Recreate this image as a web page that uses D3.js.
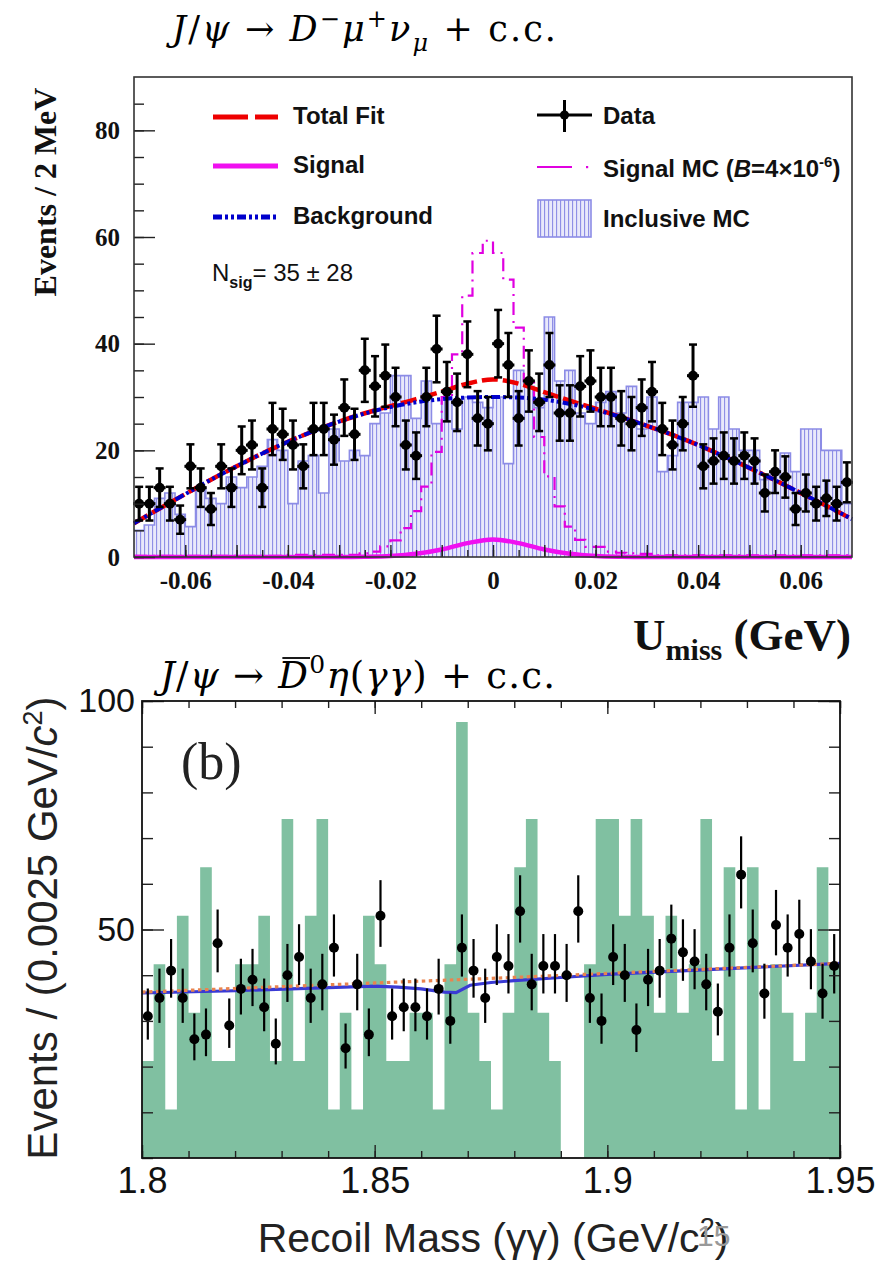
<!DOCTYPE html>
<html>
<head>
<meta charset="utf-8">
<script src="https://cdn.jsdelivr.net/npm/d3@7"></script>
<style>
  body { margin: 0; background: #fff; }
  svg { display: block; }
</style>
</head>
<body>
<svg id="chart" width="879" height="1262"></svg>
<script>
// ---------------- Upper panel: J/psi -> D- mu+ nu, U_miss distribution ----------------
const umissRange = [-0.07, 0.07];
const umissBins = 70;                 // 2 MeV bins
const dataCounts = [
  10,10,13,10,7,17,13,9,17,13,
  20,21,13,24,23,21,17,24,24,22,
  28,23,35,32,34,30,21,19,30,39,
  31,29,38,26,25,40,36,26,33,29,
  36,27,27,32,33,30,30,26,25,28,
  31,24,21,25,34,17,18,19,18,19,
  18,12,16,15,9,12,10,11,10,14
];
const inclusiveMC = [
  5,6,11,12,8,5.7,13,11,10,15,
  13,15,17,22,20,10,18,19,12,24,
  18,20,19,25,27,34,34,26,33,25,
  30,24,30,29,28,30,17.5,35,32,28,
  45,33,35,27,25,29,31,27,32,24,
  30,16,19,29,29,30,24,30,24,20,
  20,14.5,15.5,19.5,16,24,24,20,20,10
];
const signalMC = [
  0.2,0.2,0.2,0.2,0.2,0.2,0.2,0.2,0.2,0.2,
  0.2,0.2,0.2,0.2,0.2,0.4,0.4,0.4,0.4,0.4,
  0.4,0.4,0.7,1.0,2.0,3.1,5.4,8.6,13.2,19.7,
  30,38,49,57,59.3,57,52,43,33,22.5,
  15.1,9.5,5.7,3.2,1.9,1.9,1.0,0.8,0.7,0.6,
  0.6,0.3,0.3,0.3,0.3,0.3,0.3,0.3,0.3,0.3,
  0.3,0.3,0.3,0.3,0.3,0.3,0.3,0.3,0.3,0.3
];
const fitGridX = [-0.07,-0.065,-0.06,-0.055,-0.05,-0.045,-0.04,-0.035,-0.03,-0.025,-0.02,-0.015,-0.01,-0.005,
                  0,0.005,0.01,0.015,0.02,0.025,0.03,0.035,0.04,0.045,0.05,0.055,0.06,0.065,0.07];
const backgroundFit = [6.3,9.1,11.8,14.5,17.0,19.4,21.6,23.6,25.4,26.9,28.1,29.0,29.6,29.9,
                       30.0,29.9,29.5,28.7,27.6,26.2,24.6,22.9,21.0,18.9,16.7,14.4,12.0,9.6,7.1];
const signalFit = [0,0,0,0,0,0,0,0,0,0.05,0.2,0.6,1.4,2.6,
                   3.3,2.6,1.4,0.6,0.2,0.05,0,0,0,0,0,0,0,0,0];
const topXLabels = [-0.06,-0.04,-0.02,0,0.02,0.04,0.06];
const topYLabels = [0,20,40,60,80];

// ---------------- Lower panel: J/psi -> D0bar eta(gamma gamma), recoil mass ----------------
const recoilRange = [1.80, 1.95];
const recoilBins = 60;                // 0.0025 GeV/c^2 bins
const recoilCounts = [
  31,35,41,35,26,27,47,29,37,39,33,25,40,44,35,38,46,24,38,27,
  53,31,33,33,31,37,30,46,41,35,44,42,54,38,42,42,40,54,35,30,
  44,40,28,39,41,48,45,43,38,32,46,62,47,36,51,46,49,43,36,42
];
const recoilMC = [
  21.2,42.4,10.6,53.0,31.8,63.6,21.2,21.2,42.4,42.4,53.0,21.2,74.2,21.2,53.0,74.2,10.6,31.8,10.6,53.0,
  42.4,21.2,21.2,31.8,31.8,10.6,42.4,95.4,31.8,21.2,10.6,31.8,63.6,74.2,31.8,21.2,0,0,42.4,74.2,
  74.2,53.0,74.2,53.0,31.8,53.0,31.8,42.4,74.2,21.2,63.6,10.6,63.6,10.6,42.4,31.8,21.2,31.8,63.6,42.4
];
const recoilBkgX = [1.80,1.825,1.85,1.875,1.90,1.925,1.95];
const recoilBkgY = [36.3,37.3,38.3,39.3,40.4,41.5,42.6];
const recoilTotX = [1.80,1.82,1.84,1.85,1.855,1.86,1.865,1.8675,1.8705,1.875,1.88,1.89,1.90,1.925,1.95];
const recoilTotY = [36.1,36.6,37.3,37.6,37.4,37.0,36.3,36.2,37.8,38.4,38.8,39.5,40.2,41.4,42.6];
const bottomXLabels = [1.8,1.85,1.9,1.95];
const bottomYLabels = [50,100];

// ---------------------------------------------------------------------------------------
const svg = d3.select("#chart");
const defs = svg.append("defs");

// hatch used for the inclusive MC histogram
const pat = defs.append("pattern").attr("id", "inclHatch")
  .attr("patternUnits", "userSpaceOnUse").attr("width", 4).attr("height", 4);
pat.append("rect").attr("width", 4).attr("height", 4).attr("fill", "#ffffff");
pat.append("rect").attr("x", 0).attr("width", 1.3).attr("height", 4).attr("fill", "#8f8fe6");
pat.append("rect").attr("x", 2.5).attr("y", 0.5).attr("width", 1).attr("height", 1).attr("fill", "#a9a9ef");
pat.append("rect").attr("x", 2.5).attr("y", 2.5).attr("width", 1).attr("height", 1).attr("fill", "#a9a9ef");

// text with sub/superscript pieces
function richText(parent, x, y, parts, attrs) {
  const t = parent.append("text").attr("x", x).attr("y", y);
  Object.entries(attrs || {}).forEach(([k, v]) => t.attr(k, v));
  let shift = 0;
  parts.forEach(p => {
    const s = t.append("tspan").text(p.t);
    const target = p.sup ? -p.sup : (p.sub ? p.sub : 0);
    s.attr("dy", target - shift);
    shift = target;
    if (p.size) s.attr("font-size", p.size);
    if (p.italic) s.attr("font-style", "italic");
    if (p.weight) s.attr("font-weight", p.weight);
  });
  return t;
}

function binEdges(range, n) {
  const w = (range[1] - range[0]) / n;
  return d3.range(n + 1).map(i => range[0] + i * w);
}
function stepPoints(edges, vals) {
  const pts = vals.map((v, i) => [edges[i], v]);
  pts.push([edges[edges.length - 1], vals[vals.length - 1]]);
  return pts;
}

// ====================== upper panel ======================
const xT = d3.scaleLinear().domain(umissRange).range([134, 852]);
const yT = d3.scaleLinear().domain([0, 90]).range([557, 77]);
const upper = svg.append("g");
const tEdges = binEdges(umissRange, umissBins);

// inclusive MC (hatched)
const inclPts = stepPoints(tEdges, inclusiveMC);
upper.append("path")
  .attr("d", d3.area().curve(d3.curveStepAfter).x(d => xT(d[0])).y0(yT(0)).y1(d => yT(d[1]))(inclPts))
  .attr("fill", "url(#inclHatch)");
upper.append("path")
  .attr("d", d3.line().curve(d3.curveStepAfter).x(d => xT(d[0])).y(d => yT(d[1]))(inclPts))
  .attr("fill", "none").attr("stroke", "#8c8ce6").attr("stroke-width", 1.6);

// signal MC (dash-dot step histogram)
upper.append("path")
  .attr("d", d3.line().curve(d3.curveStepAfter).x(d => xT(d[0])).y(d => yT(d[1]))(stepPoints(tEdges, signalMC)))
  .attr("fill", "none").attr("stroke", "#e000e0").attr("stroke-width", 2.2)
  .attr("stroke-dasharray", "13,6,2,6");

// fit curves
const fitLine = d3.line().curve(d3.curveMonotoneX).x(d => xT(d[0])).y(d => yT(d[1]));
const totalFit = fitGridX.map((x, i) => [x, backgroundFit[i] + signalFit[i]]);
upper.append("path").attr("d", fitLine(fitGridX.map((x, i) => [x, signalFit[i]])))
  .attr("fill", "none").attr("stroke", "#f010f0").attr("stroke-width", 4.5);
upper.append("path").attr("d", fitLine(totalFit))
  .attr("fill", "none").attr("stroke", "#ee0000").attr("stroke-width", 4.5)
  .attr("stroke-dasharray", "16,5");
upper.append("path").attr("d", fitLine(fitGridX.map((x, i) => [x, backgroundFit[i]])))
  .attr("fill", "none").attr("stroke", "#0000cc").attr("stroke-width", 4)
  .attr("stroke-dasharray", "9,3,3,3,3,3");

// data points
const tw = (umissRange[1] - umissRange[0]) / umissBins;
const tData = upper.append("g").attr("stroke", "#000");
dataCounts.forEach((v, i) => {
  const cx = xT(umissRange[0] + (i + 0.5) * tw), cy = yT(v);
  const e = Math.sqrt(v);
  const y1 = yT(v + e), y2 = yT(v - e);
  tData.append("line").attr("x1", cx).attr("x2", cx).attr("y1", y1).attr("y2", y2).attr("stroke-width", 3);
  tData.append("line").attr("x1", cx - 4).attr("x2", cx + 4).attr("y1", y1).attr("y2", y1).attr("stroke-width", 2.5);
  tData.append("line").attr("x1", cx - 4).attr("x2", cx + 4).attr("y1", y2).attr("y2", y2).attr("stroke-width", 2.5);
  tData.append("line").attr("x1", cx - 6).attr("x2", cx + 6).attr("y1", cy).attr("y2", cy).attr("stroke-width", 3);
  tData.append("circle").attr("cx", cx).attr("cy", cy).attr("r", 5).attr("fill", "#000").attr("stroke", "none");
});

// axes (ticks point inwards)
const serifFamily = "Liberation Serif, Times New Roman, serif";
function styleAxis(g, font, size) {
  g.select(".domain").remove();
  g.selectAll(".tick line").attr("stroke", "#222").attr("stroke-width", 1.4);
  g.selectAll("text").attr("fill", "#111").attr("font-size", size)
    .attr("font-family", font.family).attr("font-weight", font.weight || "normal");
}
const tFont = { family: serifFamily, weight: "bold" };
upper.append("g").attr("transform", `translate(0,${yT(0)})`)
  .call(d3.axisBottom(xT).tickValues(d3.range(-13, 14).map(i => i * 0.005)).tickSizeInner(-7).tickSizeOuter(0).tickFormat(""))
  .call(g => styleAxis(g, tFont, 25));
upper.append("g").attr("transform", `translate(0,${yT(0)})`)
  .call(d3.axisBottom(xT).tickValues(d3.range(-6, 7).map(i => i / 100)).tickSizeInner(-12).tickSizeOuter(0).tickPadding(14)
    .tickFormat(d => topXLabels.some(l => Math.abs(l - d) < 1e-9) ? (Math.abs(d) < 1e-9 ? "0" : d.toFixed(2)) : ""))
  .call(g => styleAxis(g, tFont, 25));
upper.append("g").attr("transform", `translate(${xT(umissRange[0])},0)`)
  .call(d3.axisLeft(yT).tickValues(d3.range(0, 90, 5)).tickSizeInner(-10).tickSizeOuter(0).tickFormat(""))
  .call(g => styleAxis(g, tFont, 25));
upper.append("g").attr("transform", `translate(${xT(umissRange[0])},0)`)
  .call(d3.axisLeft(yT).tickValues(topYLabels).tickSizeInner(-21).tickSizeOuter(0).tickPadding(14).tickFormat(d3.format("d")))
  .call(g => styleAxis(g, tFont, 25));

upper.append("rect").attr("x", 134).attr("y", 77).attr("width", 852 - 134).attr("height", 557 - 77)
  .attr("fill", "none").attr("stroke", "#333").attr("stroke-width", 1.6);

// axis titles
svg.append("g").attr("transform", "translate(56,192) rotate(-90)")
  .append("text").attr("text-anchor", "middle").attr("font-size", 32)
  .attr("font-family", serifFamily).attr("font-weight", "bold").attr("fill", "#111")
  .text("Events / 2 MeV");
richText(svg, 851, 650, [
  { t: "U" }, { t: "miss", sub: 10, size: 30 }, { t: " (GeV)" }
], { "text-anchor": "end", "font-size": 45, "font-family": serifFamily, "font-weight": "bold", fill: "#111" });

// legend
const sans = "Liberation Sans, Arial, Helvetica, sans-serif";
const leg = svg.append("g");
leg.append("line").attr("x1", 213).attr("x2", 278).attr("y1", 117).attr("y2", 117)
  .attr("stroke", "#ee0000").attr("stroke-width", 5).attr("stroke-dasharray", "35,7");
leg.append("line").attr("x1", 213).attr("x2", 278).attr("y1", 166).attr("y2", 166)
  .attr("stroke", "#f010f0").attr("stroke-width", 5);
leg.append("line").attr("x1", 213).attr("x2", 276).attr("y1", 217).attr("y2", 217)
  .attr("stroke", "#0000cc").attr("stroke-width", 5).attr("stroke-dasharray", "9,3,3,3,3,3");
const legText = { "font-family": sans, "font-weight": "bold", "font-size": 24, fill: "#111" };
richText(leg, 293, 124, [{ t: "Total Fit" }], legText);
richText(leg, 293, 173, [{ t: "Signal" }], legText);
richText(leg, 293, 224, [{ t: "Background" }], legText);
richText(leg, 212, 281, [{ t: "N" }, { t: "sig", sub: 7, size: 16, weight: "bold" }, { t: "= 35 \u00b1 28" }],
  { "font-family": sans, "font-size": 24, fill: "#111" });

leg.append("line").attr("x1", 537).attr("x2", 592).attr("y1", 115).attr("y2", 115).attr("stroke", "#000").attr("stroke-width", 3);
leg.append("line").attr("x1", 564.5).attr("x2", 564.5).attr("y1", 100).attr("y2", 132).attr("stroke", "#000").attr("stroke-width", 3);
leg.append("circle").attr("cx", 564.5).attr("cy", 115).attr("r", 4.6).attr("fill", "#000");
leg.append("line").attr("x1", 537).attr("x2", 572).attr("y1", 167).attr("y2", 167).attr("stroke", "#e000e0").attr("stroke-width", 2.2);
leg.append("rect").attr("x", 586).attr("y", 166).attr("width", 2.2).attr("height", 2.2).attr("fill", "#e000e0");
leg.append("rect").attr("x", 538).attr("y", 200).attr("width", 53).attr("height", 37)
  .attr("fill", "url(#inclHatch)").attr("stroke", "#8c8ce6").attr("stroke-width", 1.6);
richText(leg, 603, 124, [{ t: "Data" }], legText);
richText(leg, 603, 177, [
  { t: "Signal MC (" }, { t: "B", italic: true }, { t: "=4\u00d710" }, { t: "-6", sup: 10, size: 15 }, { t: ")" }
], legText);
richText(leg, 603, 227, [{ t: "Inclusive MC" }], legText);

// decay label of the upper panel
const mathFont = { "font-family": "DejaVu Serif, serif", "font-size": 35, fill: "#000" };
richText(svg, 172, 41, [
  { t: "J", italic: true }, { t: "/" }, { t: "\u03c8", italic: true }, { t: " \u2192 " },
  { t: "D", italic: true }, { t: "\u2212", sup: 14, size: 24 }, { t: "\u03bc", italic: true },
  { t: "+", sup: 14, size: 24 }, { t: "\u03bd", italic: true }, { t: "\u03bc", sub: 10, size: 24, italic: true },
  { t: " + c.c." }
], Object.assign({ textLength: 384, lengthAdjust: "spacing" }, mathFont));

// ====================== lower panel ======================
const xB = d3.scaleLinear().domain(recoilRange).range([142, 840]);
const yB = d3.scaleLinear().domain([0, 100]).range([1158, 701]);
const lower = svg.append("g");
const bEdges = binEdges(recoilRange, recoilBins);

lower.append("path")
  .attr("d", d3.area().curve(d3.curveStepAfter).x(d => xB(d[0])).y0(yB(0)).y1(d => yB(d[1]))(stepPoints(bEdges, recoilMC)))
  .attr("fill", "#80c0a1");

const bLine = d3.line().curve(d3.curveLinear).x(d => xB(d[0])).y(d => yB(d[1]));
lower.append("path").attr("d", bLine(recoilTotX.map((x, i) => [x, recoilTotY[i]])))
  .attr("fill", "none").attr("stroke", "#3a3ad4").attr("stroke-width", 3.2);
lower.append("path").attr("d", bLine(recoilBkgX.map((x, i) => [x, recoilBkgY[i]])))
  .attr("fill", "none").attr("stroke", "#e9844f").attr("stroke-width", 3.2).attr("stroke-dasharray", "3.5,3.5");

const bw = (recoilRange[1] - recoilRange[0]) / recoilBins;
const bData = lower.append("g");
recoilCounts.forEach((v, i) => {
  const cx = xB(recoilRange[0] + (i + 0.5) * bw);
  const s = Math.sqrt(v + 0.25);
  bData.append("line").attr("x1", cx).attr("x2", cx).attr("y1", yB(v + s + 0.5)).attr("y2", yB(v - s + 0.5))
    .attr("stroke", "#000").attr("stroke-width", 2.2);
  bData.append("circle").attr("cx", cx).attr("cy", yB(v)).attr("r", 5).attr("fill", "#000");
});

const bFont = { family: sans, weight: "normal" };
// bottom and top ticks
lower.append("g").attr("transform", `translate(0,${yB(0)})`)
  .call(d3.axisBottom(xB).tickValues(d3.range(180, 196).map(i => i / 100))
    .tickSizeInner(-7).tickSizeOuter(0).tickFormat(""))
  .call(g => styleAxis(g, bFont, 36));
lower.append("g").attr("transform", `translate(0,${yB(0)})`)
  .call(d3.axisBottom(xB).tickValues(bottomXLabels).tickSizeInner(-13).tickSizeOuter(0).tickPadding(9)
    .tickFormat(d => String(d)))
  .call(g => styleAxis(g, bFont, 36));
lower.append("g").attr("transform", `translate(0,${yB(100)})`)
  .call(d3.axisTop(xB).tickValues(d3.range(180, 196).map(i => i / 100))
    .tickSizeInner(-7).tickSizeOuter(0).tickFormat(""))
  .call(g => styleAxis(g, bFont, 36));
lower.append("g").attr("transform", `translate(0,${yB(100)})`)
  .call(d3.axisTop(xB).tickValues(bottomXLabels).tickSizeInner(-13).tickSizeOuter(0).tickFormat(""))
  .call(g => styleAxis(g, bFont, 36));
// left and right ticks
lower.append("g").attr("transform", `translate(${xB(recoilRange[0])},0)`)
  .call(d3.axisLeft(yB).tickValues(d3.range(0, 101, 10)).tickSizeInner(-11).tickSizeOuter(0).tickFormat(""))
  .call(g => styleAxis(g, bFont, 34));
lower.append("g").attr("transform", `translate(${xB(recoilRange[0])},0)`)
  .call(d3.axisLeft(yB).tickValues(bottomYLabels).tickSizeInner(-22).tickSizeOuter(0).tickPadding(7).tickFormat(d3.format("d")))
  .call(g => styleAxis(g, bFont, 34));
lower.append("g").attr("transform", `translate(${xB(recoilRange[1])},0)`)
  .call(d3.axisRight(yB).tickValues(d3.range(0, 101, 10)).tickSizeInner(-11).tickSizeOuter(0).tickFormat(""))
  .call(g => styleAxis(g, bFont, 34));
lower.append("g").attr("transform", `translate(${xB(recoilRange[1])},0)`)
  .call(d3.axisRight(yB).tickValues(bottomYLabels).tickSizeInner(-22).tickSizeOuter(0).tickFormat(""))
  .call(g => styleAxis(g, bFont, 34));

lower.append("rect").attr("x", 142).attr("y", 701).attr("width", 840 - 142).attr("height", 1158 - 701)
  .attr("fill", "none").attr("stroke", "#111").attr("stroke-width", 1.8);

lower.append("text").attr("x", 181).attr("y", 779).attr("font-family", serifFamily)
  .attr("font-size", 52).attr("fill", "#222").text("(b)");

// axis titles
const bTitle = { "font-family": sans, "font-size": 42, fill: "#222" };
const yTitleG = svg.append("g").attr("transform", "translate(57,928) rotate(-90)");
richText(yTitleG, 0, 0, [
  { t: "Events / (0.0025 GeV/" }, { t: "c", italic: true }, { t: "2", sup: 15, size: 27 }, { t: ")" }
], Object.assign({ "text-anchor": "middle" }, bTitle));
richText(svg, 493, 1252, [
  { t: "Recoil Mass (\u03b3\u03b3) (GeV/c" }, { t: "2", sup: 15, size: 27 }, { t: ")" }
], Object.assign({ "text-anchor": "middle" }, bTitle, { "font-size": 41 }));

// decay label of the lower panel (D with a bar)
const lowTitleParts = [
  { t: "J", italic: true }, { t: "/" }, { t: "\u03c8", italic: true }, { t: " \u2192 " },
  { t: "D", italic: true }, { t: "0", sup: 15, size: 25 }, { t: "\u03b7", italic: true },
  { t: "(" }, { t: "\u03b3\u03b3", italic: true }, { t: ")" }, { t: " + c.c." }
];
const lowTitle = richText(svg, 160, 688, lowTitleParts,
  Object.assign({ textLength: 395, lengthAdjust: "spacing" }, mathFont, { "font-size": 37 }));
const dIndex = lowTitleParts.slice(0, 4).reduce((n, p) => n + p.t.length, 0);
const dBox = lowTitle.node().getExtentOfChar(dIndex);
svg.append("line").attr("x1", dBox.x + 4).attr("x2", dBox.x + dBox.width + 2)
  .attr("y1", dBox.y + 4).attr("y2", dBox.y + 4).attr("stroke", "#000").attr("stroke-width", 1.8);

// slide page number
svg.append("text").attr("x", 697).attr("y", 1246).attr("font-family", sans).attr("font-size", 30)
  .attr("fill", "#999").text("15");
</script>
</body>
</html>
